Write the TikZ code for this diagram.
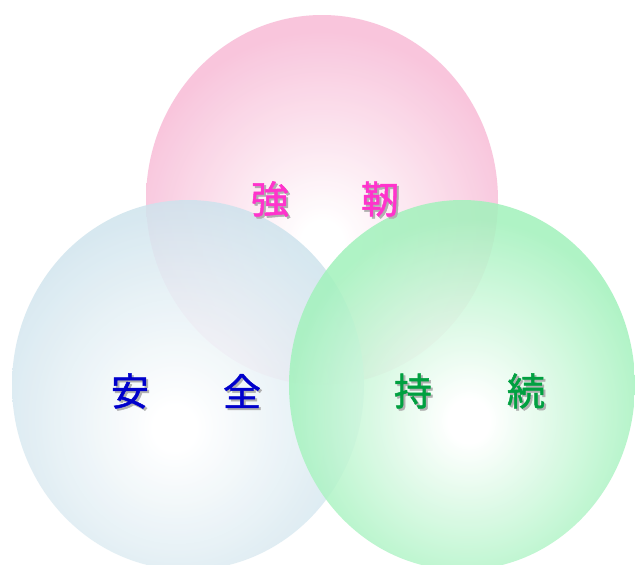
\documentclass[tikz,border=0pt]{standalone}
\usepackage{fontspec}
\newfontfamily\cjk{Noto Sans CJK JP}[RawFeature={embolden=1.3}]
\definecolor{pinkE}{HTML}{F8BCD7}
\definecolor{blueE}{HTML}{CCE2EC}
\definecolor{greenE}{HTML}{A2F2BC}
\definecolor{magT}{HTML}{FF33CC}
\definecolor{bluT}{HTML}{0000CC}
\definecolor{grnT}{HTML}{00A040}
\definecolor{shadowC}{HTML}{B0B0B0}
\pgfdeclareradialshading{pinkball}{\pgfpoint{0bp}{-6bp}}{color(0bp)=(white); color(3bp)=(white); color(27bp)=(pinkE); color(90bp)=(pinkE)}
\pgfdeclareradialshading{blueball}{\pgfpoint{-2bp}{-6bp}}{color(0bp)=(white); color(3bp)=(white); color(30bp)=(blueE); color(90bp)=(blueE)}
\pgfdeclareradialshading{greenball}{\pgfpoint{1bp}{-5bp}}{color(0bp)=(white); color(3bp)=(white); color(26bp)=(greenE); color(90bp)=(greenE)}
\newcommand{\shadowedchar}[1]{\rlap{\hspace{2pt}\raisebox{-2pt}{\color{shadowC}#1}}#1}
\tikzset{
  ball/.style={fill opacity=0.85},
  word/.style={font=\cjk\fontsize{38}{40}\selectfont, inner sep=0pt}
}
\begin{document}
\begin{tikzpicture}[x=1pt,y=-1pt]
\useasboundingbox (0,0) rectangle (635,565);
\fill[white] (0,0) rectangle (635,565);
\begin{scope}
\clip (0,0) rectangle (635,565);
\shade[ball, shading=pinkball] (322,200) ellipse [x radius=176, y radius=185];
\shade[ball, shading=blueball] (188,385) ellipse [x radius=176, y radius=185];
\shade[ball, shading=greenball] (462,385) ellipse [x radius=173, y radius=185];
\end{scope}
\node[word, text=magT] (t1) at (270,200) {\shadowedchar{強}};
\node[word, text=magT] (t2) at (380,200) {\shadowedchar{靭}};
\node[word, text=bluT] (t3) at (130,392) {\shadowedchar{安}};
\node[word, text=bluT] (t4) at (242,392) {\shadowedchar{全}};
\node[word, text=grnT] (t5) at (413,392) {\shadowedchar{持}};
\node[word, text=grnT] (t6) at (526,392) {\shadowedchar{続}};
\end{tikzpicture}
\end{document}
